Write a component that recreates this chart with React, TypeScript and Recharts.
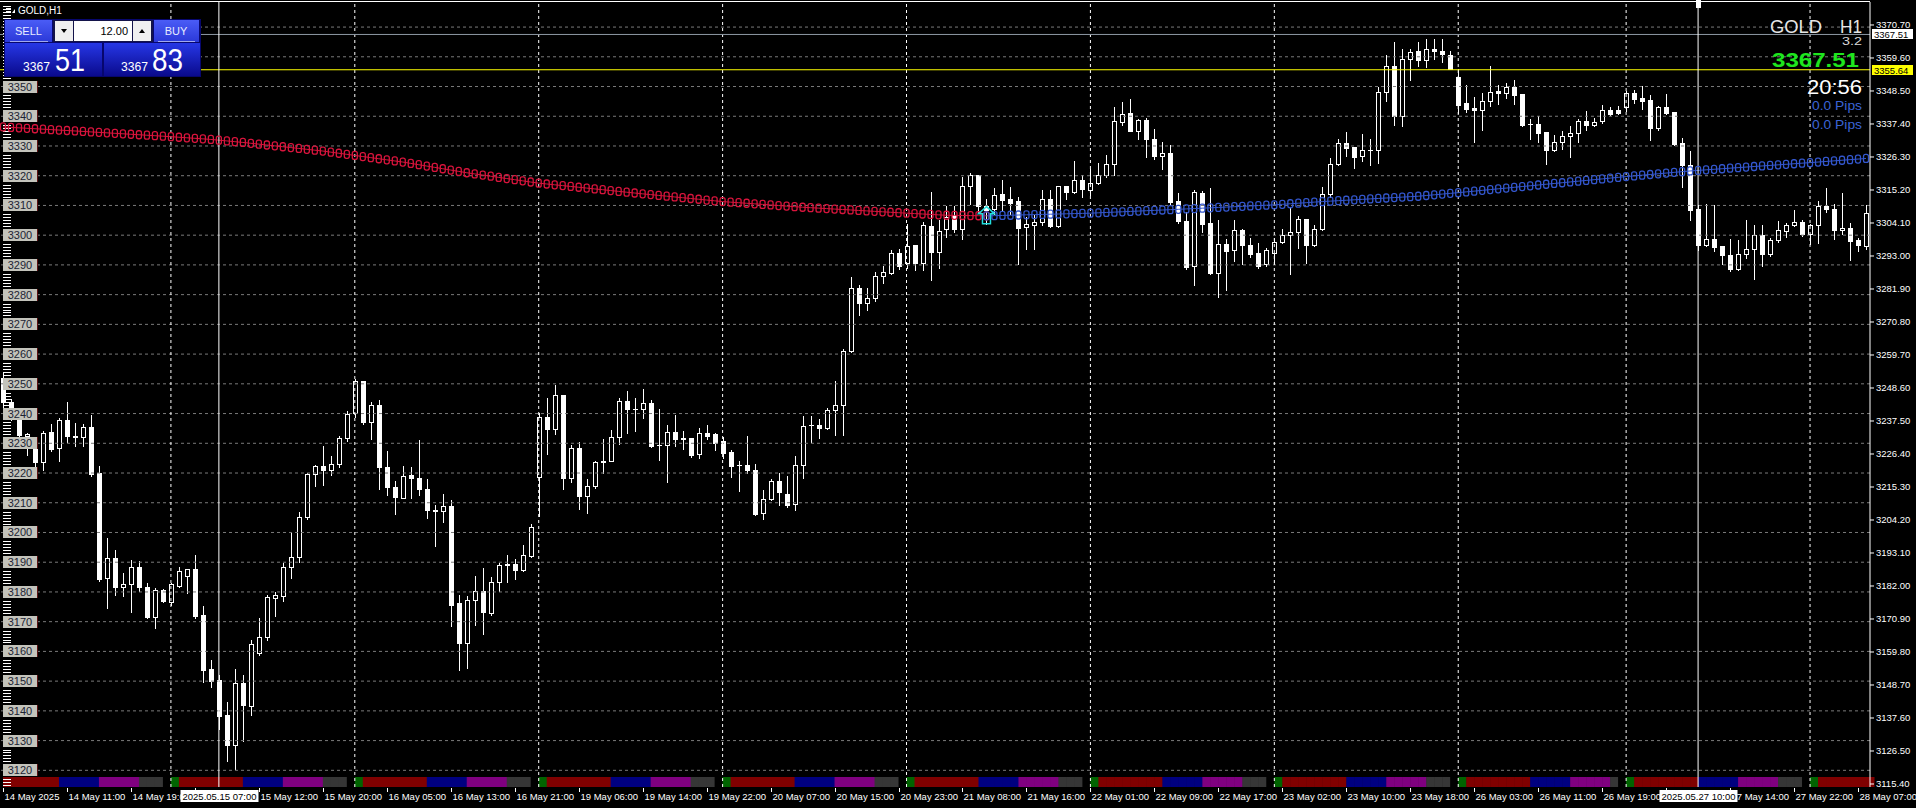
import React from "react";
import { ComposedChart, Bar, Line, XAxis, YAxis, ReferenceLine, ReferenceDot } from "recharts";

const font = "'Liberation Sans', Arial, sans-serif";

// trading sessions shown (label, stamp date, first hour, last hour)
const sessions: [string, string, number, number][] = [
  ["14 May", "2025.05.14", 3, 23],
  ["15 May", "2025.05.15", 1, 23],
  ["16 May", "2025.05.16", 1, 23],
  ["19 May", "2025.05.19", 1, 23],
  ["20 May", "2025.05.20", 1, 23],
  ["21 May", "2025.05.21", 1, 23],
  ["22 May", "2025.05.22", 1, 23],
  ["23 May", "2025.05.23", 1, 23],
  ["26 May", "2025.05.26", 1, 21],
  ["27 May", "2025.05.27", 1, 23],
  ["28 May", "2025.05.28", 1, 8],
];

const opens = [
  3252, 3244, 3238, 3232.5, 3228.4, 3223.6, 3233.8, 3228.3, 3238, 3232.4,
  3232, 3235.5, 3220, 3184.6, 3191.3, 3181.6, 3182.6, 3188.3, 3181.6, 3171.7,
  3180.7, 3176.5, 3181.9, 3185.5, 3187.6, 3172.2, 3154, 3150.3, 3138.5, 3128.6,
  3149.5, 3141.7, 3159.3, 3164.9, 3178.1, 3178.8, 3188.5, 3191.9, 3205.1, 3219.7,
  3222.2, 3220.9, 3223, 3231.8, 3240.2, 3250.9, 3237.2, 3243, 3221.9, 3215.3,
  3211.6, 3219.3, 3218.3, 3214.6, 3207.5, 3207.2, 3209, 3176.2, 3162.9, 3177.3,
  3180.4, 3172.9, 3183.3, 3189.2, 3189.4, 3187.3, 3192.2, 3218.5, 3238.8, 3234.8,
  3246.3, 3218.3, 3228.4, 3212.2, 3215.5, 3223.7, 3223.9, 3232.1, 3244.3, 3241.7,
  3241.5, 3243.5, 3229.5, 3229.5, 3233.8, 3231.6, 3231.8, 3226.4, 3233.5, 3233.2,
  3230.9, 3227, 3222.8, 3222.8, 3221.1, 3206.5, 3211.3, 3217.4, 3212.9, 3209.6,
  3222.8, 3236, 3236.1, 3235.1, 3241.3, 3242.8, 3260.9, 3282.4, 3277.2, 3278.9,
  3286.4, 3287.3, 3294, 3290.6, 3296.6, 3290.6, 3303.2, 3294.2, 3302, 3306.7,
  3302, 3316.5, 3320.3, 3309.8, 3308.7, 3313.9, 3312.3, 3311.4, 3302.6, 3303.3,
  3304.4, 3312.3, 3303.1, 3316.5, 3314.5, 3318.4, 3315.1, 3317.6, 3320.1, 3323.8,
  3338.1, 3341.1, 3335.2, 3338.6, 3332.2, 3326.6, 3327.6, 3311.4, 3304.8, 3289.5,
  3314.3, 3304.2, 3287.4, 3297.1, 3294.9, 3301.8, 3296.6, 3294.1, 3290.2, 3294,
  3297.7, 3299.9, 3301, 3305.5, 3296.8, 3302, 3314, 3324, 3331.1, 3329.6,
  3326.6, 3328.7, 3328.7, 3348.1, 3356.9, 3340, 3359.4, 3361.9, 3358.8, 3362.7,
  3362, 3360.7, 3353.2, 3344.6, 3342.9, 3342, 3345.1, 3348.4, 3347.9, 3349.8,
  3347.6, 3337.5, 3337.5, 3334.7, 3328.5, 3331.5, 3333.3, 3334.3, 3338.3, 3337.2,
  3338.3, 3342.2, 3342, 3343.1, 3347.9, 3346.2, 3345.6, 3336, 3343.1, 3341.4,
  3331, 3323.5, 3308.9, 3296.6, 3298.8, 3296.2, 3293.4, 3288.5, 3293.8, 3295.5,
  3300.2, 3293.6, 3298.3, 3301.4, 3303.4, 3304.4, 3300.5, 3303.3, 3309.8, 3308.9,
  3301.6, 3302.5, 3298.3, 3296.2,
];

const highs = [
  3254, 3245, 3238.5, 3233.5, 3229, 3234.3, 3236.6, 3238.5, 3243.8, 3236.9,
  3236.5, 3239.4, 3222.5, 3198, 3194.2, 3186.3, 3190.8, 3190.4, 3182.9, 3181.3,
  3181, 3183.1, 3188.4, 3187.7, 3192.5, 3175.3, 3157.1, 3152, 3143, 3154,
  3152, 3164, 3171.4, 3179, 3179.9, 3189.7, 3199.8, 3206.9, 3220, 3222.8,
  3229.2, 3225.8, 3232.6, 3240.8, 3251.5, 3251, 3243.9, 3244.7, 3227.5, 3217.2,
  3222.2, 3222, 3231.2, 3218, 3209.3, 3213, 3211, 3179, 3178.7, 3185.2,
  3188, 3185, 3189.7, 3192.3, 3191.1, 3195.9, 3203, 3240.2, 3245.2, 3249.7,
  3246.4, 3229.5, 3230.3, 3218, 3223.9, 3231.4, 3234.4, 3245.2, 3247.7, 3245.2,
  3248.3, 3244.4, 3241.5, 3236.1, 3239.6, 3234, 3231.8, 3235.1, 3236, 3233.5,
  3232.1, 3227.8, 3223.9, 3232.6, 3223.1, 3214.2, 3218, 3220, 3219.1, 3225.6,
  3239.3, 3239.3, 3238.2, 3241.9, 3250.8, 3261.7, 3285.8, 3283.3, 3282.4, 3287.7,
  3289.5, 3295.1, 3295.3, 3303.9, 3296.6, 3304.3, 3314.5, 3305, 3309.8, 3309.8,
  3319.6, 3320.9, 3320.3, 3312.2, 3316, 3318.4, 3316.2, 3312.8, 3306.1, 3306.7,
  3315.1, 3315.1, 3316.7, 3316.7, 3324.9, 3320.1, 3322.1, 3324.4, 3326.8, 3343.1,
  3344.8, 3345.7, 3339.2, 3339.5, 3335.8, 3331.3, 3330.2, 3314.3, 3307.8, 3315.1,
  3314.7, 3315.9, 3305, 3298.8, 3305, 3302.2, 3299.1, 3297.4, 3295.7, 3299,
  3302, 3309.1, 3306.4, 3305.5, 3303.3, 3316.2, 3325.9, 3332.2, 3334.7, 3329.6,
  3334.1, 3332.2, 3349.8, 3360.7, 3364.9, 3362.7, 3362.7, 3365, 3365.9, 3365.9,
  3365.9, 3361.9, 3356, 3350.6, 3346.5, 3347.9, 3356.9, 3350.6, 3351.3, 3352.1,
  3347.6, 3339.2, 3340, 3334.7, 3333.8, 3335.2, 3336.7, 3339.2, 3341.7, 3339.4,
  3343.7, 3343.1, 3343.4, 3348.4, 3348.7, 3350.2, 3347.2, 3343.4, 3347.6, 3341.4,
  3332.8, 3328.3, 3310, 3310.6, 3310, 3296.2, 3298.6, 3298.3, 3305.2, 3303.3,
  3303.3, 3299.1, 3304.8, 3304.2, 3308.3, 3305.2, 3303.9, 3311.4, 3315.9, 3310.6,
  3314.3, 3304.2, 3299.1, 3310,
];

const lows = [
  3242, 3237.8, 3232, 3226, 3222, 3221, 3227.3, 3224, 3230.3, 3229,
  3229.2, 3219.1, 3183.8, 3174.7, 3179, 3178.7, 3173.4, 3180.4, 3171.1, 3167.8,
  3176.7, 3175.6, 3181.5, 3179.8, 3171.1, 3149.8, 3148, 3134, 3123.2, 3120.6,
  3130, 3138.5, 3158.8, 3163.8, 3171.9, 3177.1, 3184.8, 3190, 3204.5, 3215.5,
  3216, 3219.4, 3222, 3230.7, 3239, 3236.5, 3231.6, 3214.6, 3212.5, 3206.3,
  3211.6, 3211.6, 3212.7, 3205, 3195.3, 3203.4, 3168.5, 3153.9, 3154.4, 3169,
  3166, 3172.4, 3180.3, 3183.4, 3184.5, 3186.9, 3191.7, 3205.4, 3226.4, 3233.2,
  3214.6, 3217, 3208, 3206.5, 3215, 3220, 3223.9, 3229.8, 3233.5, 3234,
  3238.5, 3228.6, 3224.3, 3216.9, 3229.2, 3228, 3225.4, 3225, 3231.4, 3227.6,
  3225, 3218.8, 3213.8, 3220, 3206, 3204.5, 3210.8, 3209.4, 3208.6, 3207.7,
  3218.3, 3230.3, 3231.8, 3234.8, 3232.7, 3232.7, 3260.6, 3273, 3275, 3278,
  3283.9, 3287, 3288.7, 3288.9, 3288.2, 3288.4, 3285, 3289, 3299.4, 3301.1,
  3298.6, 3310.6, 3307.8, 3303.8, 3307, 3308.3, 3307.2, 3290.4, 3295.2, 3295.2,
  3303.5, 3302.7, 3302.7, 3312.3, 3314.3, 3312.8, 3313.4, 3317.3, 3319.6, 3320.3,
  3336.9, 3334.9, 3332.4, 3326.3, 3325.7, 3322.4, 3310.4, 3304.2, 3288.5, 3283.1,
  3301.1, 3287, 3279.2, 3281.4, 3291.3, 3290.2, 3292.5, 3289, 3289.5, 3290.4,
  3297.5, 3287, 3295.8, 3290.7, 3296.3, 3301.6, 3312.8, 3323.5, 3326.6, 3322.6,
  3324.8, 3323.5, 3324.4, 3345, 3337.2, 3336.7, 3352.1, 3356.9, 3356.5, 3359.1,
  3358.2, 3355.8, 3341.2, 3341.4, 3331.5, 3335.5, 3343.4, 3344.2, 3346.2, 3344.2,
  3336.7, 3332.2, 3331.3, 3323.8, 3328.2, 3328.9, 3326.3, 3331.5, 3335.5, 3336.7,
  3337.8, 3340.3, 3340.9, 3341.6, 3344.4, 3342.3, 3331.9, 3335.5, 3340.9, 3330.4,
  3316.2, 3305, 3295, 3296.2, 3294.6, 3290.4, 3287.8, 3288.2, 3292.3, 3285.4,
  3289.6, 3293, 3297.7, 3299.4, 3303, 3299.7, 3297.1, 3297.3, 3307.8, 3298.6,
  3300.5, 3291.5, 3294.6, 3295.5,
];

const closes = [
  3244, 3238.3, 3232.7, 3233, 3223.6, 3233.5, 3228.2, 3238, 3232.4, 3232,
  3235.5, 3219.7, 3184.3, 3191.3, 3181.6, 3182.6, 3188.3, 3181.5, 3171.6, 3180.7,
  3177.1, 3182.6, 3186.9, 3187.6, 3171.9, 3153.7, 3150.1, 3138.3, 3128.6, 3149.5,
  3141.9, 3162.4, 3164.9, 3178.2, 3178.9, 3188.5, 3191.9, 3205.1, 3219.7, 3222.2,
  3220.9, 3223, 3231.8, 3240, 3250.9, 3237.2, 3243, 3221.9, 3215.3, 3211.8,
  3219.1, 3218.2, 3214.6, 3207.5, 3207.2, 3209, 3175.6, 3162.9, 3177.3, 3180.3,
  3173.1, 3183.3, 3189.2, 3189.4, 3187.3, 3192.5, 3201.8, 3238.8, 3234.8, 3246.1,
  3218.3, 3228.4, 3212.2, 3215.5, 3223.7, 3224.1, 3232.1, 3244.3, 3241.7, 3241.6,
  3243.5, 3229, 3229.4, 3233.8, 3231.4, 3231.7, 3226.2, 3233.5, 3232.6, 3230.1,
  3226.7, 3222.2, 3222.6, 3220.9, 3206.3, 3211.3, 3217.4, 3213.5, 3209.4, 3222.8,
  3235.7, 3236.1, 3235, 3241.3, 3242.9, 3261.1, 3282.2, 3277.2, 3278.9, 3286.4,
  3287.5, 3294, 3289.5, 3296.2, 3290.6, 3303.3, 3294.2, 3301.5, 3306, 3302,
  3316.5, 3320.3, 3309.8, 3308.6, 3313.6, 3311.7, 3310.9, 3302.4, 3303.7, 3304.4,
  3312.3, 3303.1, 3316.5, 3314.5, 3318.4, 3315.6, 3317.6, 3320.1, 3323.8, 3338.3,
  3340.9, 3335.2, 3338.6, 3332.2, 3326.6, 3327.6, 3311.1, 3304.6, 3289.3, 3314.5,
  3303.9, 3287.4, 3297.1, 3294.7, 3301.8, 3296.6, 3293.8, 3289.8, 3295.1, 3297.7,
  3300.2, 3301, 3305.5, 3296.8, 3302, 3314, 3324, 3331.1, 3329.3, 3326.3,
  3328.7, 3328.8, 3348.1, 3356.9, 3340, 3359.4, 3361.6, 3358.8, 3362.7, 3361.8,
  3360.9, 3356, 3343.9, 3342.5, 3342, 3345.1, 3348.1, 3347.9, 3349.8, 3347.2,
  3337.2, 3337.4, 3334.5, 3328.5, 3331.5, 3333.3, 3334.3, 3338.3, 3337.2, 3338,
  3342, 3340.9, 3341.2, 3347.9, 3345.9, 3345, 3336, 3343.1, 3341.2, 3330.8,
  3323.5, 3308.3, 3296.6, 3298.8, 3296, 3293.2, 3288.5, 3293.8, 3295.5, 3300.2,
  3293.6, 3298.3, 3301.6, 3303.5, 3304.4, 3300.5, 3303.3, 3309.7, 3308.7, 3301.6,
  3302.5, 3297.9, 3296.6, 3307.4,
];

// moving average: falling part (red) up to bar 123, rising part (blue) from bar 123
const maRed = [
  3336.4, 3336.25, 3336.1, 3335.95, 3335.8, 3335.65, 3335.5, 3335.35, 3335.2, 3335.05, 3334.9,
  3334.74, 3334.58, 3334.42, 3334.26, 3334.1, 3333.94, 3333.78, 3333.62, 3333.46, 3333.3,
  3333.12, 3332.94, 3332.76, 3332.58, 3332.4, 3332.2,
  3331.95, 3331.7, 3331.45, 3331.2,
  3330.91, 3330.62, 3330.33, 3330.04, 3329.75, 3329.46, 3329.17, 3328.88, 3328.59, 3328.3,
  3327.93, 3327.56, 3327.19, 3326.82, 3326.45, 3326.08, 3325.71, 3325.34, 3324.97, 3324.6,
  3324.15, 3323.7, 3323.25, 3322.8, 3322.35, 3321.9, 3321.45, 3321.0,
  3320.61, 3320.22, 3319.83, 3319.44, 3319.05, 3318.66, 3318.27, 3317.88, 3317.5,
  3317.22, 3316.95, 3316.67, 3316.39, 3316.12, 3315.84, 3315.56, 3315.29, 3315.01, 3314.73, 3314.45, 3314.18, 3313.9,
  3313.64, 3313.38, 3313.12, 3312.86, 3312.6, 3312.34, 3312.08, 3311.82, 3311.56, 3311.3,
  3311.11, 3310.92, 3310.73, 3310.54, 3310.35, 3310.16, 3309.97, 3309.78, 3309.59, 3309.4,
  3309.25, 3309.09, 3308.94, 3308.78, 3308.63, 3308.48, 3308.32, 3308.17, 3308.01, 3307.86, 3307.71, 3307.55, 3307.4,
  3307.26, 3307.12, 3306.98, 3306.84, 3306.7,
  3306.66, 3306.62, 3306.58, 3306.54, 3306.5,
];
const maBlue = [
  3306.5, 3306.57, 3306.64, 3306.71, 3306.78, 3306.85, 3306.92, 3306.98, 3307.05, 3307.12, 3307.19, 3307.26, 3307.33, 3307.4,
  3307.52, 3307.64, 3307.75, 3307.87, 3307.99, 3308.11, 3308.23, 3308.35, 3308.46, 3308.58, 3308.7,
  3308.83, 3308.95, 3309.08, 3309.2, 3309.33, 3309.45, 3309.58, 3309.7, 3309.83, 3309.95, 3310.08, 3310.2,
  3310.38, 3310.57, 3310.75, 3310.93, 3311.12, 3311.3,
  3311.45, 3311.6, 3311.75, 3311.9, 3312.05, 3312.2, 3312.35, 3312.5, 3312.65, 3312.8, 3312.95, 3313.1,
  3313.34, 3313.58, 3313.82, 3314.06, 3314.3,
  3314.56, 3314.81, 3315.07, 3315.33, 3315.59, 3315.84, 3316.1, 3316.36, 3316.61, 3316.87, 3317.13, 3317.39, 3317.64, 3317.9, 3318.16, 3318.41, 3318.67, 3318.93, 3319.19, 3319.44, 3319.7,
  3319.94, 3320.18, 3320.41, 3320.65, 3320.89, 3321.13, 3321.36, 3321.6,
  3321.79, 3321.97, 3322.16, 3322.35, 3322.53, 3322.72, 3322.91, 3323.1, 3323.28, 3323.47, 3323.66, 3323.84, 3324.03, 3324.22, 3324.4,
  3324.6, 3324.8, 3325.0, 3325.2, 3325.4, 3325.6, 3325.8,
];
const maTurn = 123;

const priceTicks = [
  3115.4, 3126.5, 3137.6, 3148.7, 3159.8, 3170.9, 3182.0, 3193.1, 3204.2, 3215.3, 3226.4, 3237.5,
  3248.6, 3259.7, 3270.8, 3281.9, 3293.0, 3304.1, 3315.2, 3326.3, 3337.4, 3348.5, 3359.6, 3370.7,
];
const gridLevels = [
  3120, 3130, 3140, 3150, 3160, 3170, 3180, 3190, 3200, 3210, 3220, 3230, 3240,
  3250, 3260, 3270, 3280, 3290, 3300, 3310, 3320, 3330, 3340, 3350, 3360, 3370,
];
const boxLevels = [
  3120, 3130, 3140, 3150, 3160, 3170, 3180, 3190, 3200, 3210, 3220, 3230,
  3240, 3250, 3260, 3270, 3280, 3290, 3300, 3310, 3320, 3330, 3340, 3350,
];
// short white scale marks on the left edge, one per dollar, skipping the boxed labels
const ladderMarks: number[] = [];
for (let v = 3115; v <= 3377; v++) {
  const near = Math.round(v / 10) * 10;
  if (!(Math.abs(v - near) <= 2 && boxLevels.includes(near))) ladderMarks.push(v);
}

const priceDomain = [3114.39, 3378.43];
const askLine = 3367.51;
const bidLine = 3355.64;
const cursorBars = [27, 212];
const arrowBar = 123;
const arrowLevel = 3309.6;
const plotBottom = 787;

const pad = (n: number) => (n < 10 ? "0" + n : "" + n);

type Row = {
  i: number; o: number; h: number; l: number; c: number;
  maR: number | null; maB: number | null; band: number; fill: string; label: string; stamp: string;
};

const data: Row[] = [];
const dayStarts: number[] = [];
sessions.forEach(([day, ymd, first, last], si) => {
  for (let hr = first; hr <= last; hr++) {
    const i = data.length;
    if (hr === 1) dayStarts.push(i);
    const closed = hr === last && si < sessions.length - 1;
    const fill = closed ? "#000000" : hr === 1 ? "#006400" : hr <= 9 ? "#800000" : hr <= 14 ? "#000080" : hr <= 19 ? "#800080" : "#363636";
    data.push({
      i, o: opens[i], h: highs[i], l: lows[i], c: closes[i],
      maR: i <= maTurn ? maRed[i] : null,
      maB: i >= maTurn ? maBlue[i - maTurn] : null,
      band: 1, fill,
      label: i === 0 ? `${day} 2025` : `${day} ${pad(hr)}:00`,
      stamp: `${ymd} ${pad(hr)}:00`,
    });
  }
});
const labelIdx = data.filter((d) => d.i % 8 === 0).map((d) => d.i);

function Candle(props: any) {
  const { x, y, width, height, payload } = props;
  if (x == null || y == null || !payload) return <g />;
  const top = Math.min(y, y + height);
  const span = Math.abs(height);
  const { o, h, l, c } = payload;
  const toY = (v: number) => (h === l ? top : top + ((h - v) / (h - l)) * span);
  const px = Math.round(x + width / 2) + 0.5;
  const yo = toY(o);
  const yc = toY(c);
  const bTop = Math.round(Math.min(yo, yc)) + 0.5;
  const bBot = Math.round(Math.max(yo, yc)) + 0.5;
  const bull = c >= o;
  return (
    <g>
      <line x1={px} x2={px} y1={Math.round(top)} y2={Math.round(top + span) + 1} stroke="#ffffff" />
      {bBot - bTop < 1 ? (
        <line x1={px - 2.5} x2={px + 2.5} y1={bTop} y2={bTop} stroke="#ffffff" />
      ) : (
        <rect x={px - 2} y={bTop} width={4} height={bBot - bTop} fill={bull ? "#000000" : "#ffffff"} stroke="#ffffff" />
      )}
    </g>
  );
}

function SessionCell(props: any) {
  const { x, y, width, height, payload } = props;
  if (x == null || !payload) return <g />;
  return <rect x={x + width / 2} y={y} width={width + 0.5} height={height} fill={payload.fill} />;
}

const chainDot = (color: string) => (p: any) => {
  if (p.cy == null || p.value == null) return <g key={`n${p.index}`} />;
  return (
    <rect key={`d${p.index}`} x={p.cx - 2.5} y={p.cy - 4} width={5} height={8} rx={2}
      fill="none" stroke={color} strokeWidth={1.3} />
  );
};

const ladderMark = (vb: any) => {
  if (!vb) return <g />;
  const yy = Math.round(vb.y) + 0.5;
  return <line x1={3} x2={11} y1={yy} y2={yy} stroke="#ffffff" />;
};

const levelBox = (vb: any, v: number) => {
  if (!vb) return <g />;
  const yy = Math.round(vb.y);
  return (
    <g>
      <rect x={3} y={yy - 6} width={34} height={12} fill="#c3c3bb" />
      <line x1={37.5} x2={37.5} y1={yy - 6} y2={yy + 6} stroke="#5a1010" />
      <text x={20} y={yy + 4} textAnchor="middle" fontSize={11} fontFamily={font} fill="#1c2333">{v}</text>
    </g>
  );
};

function TimeTick(props: any) {
  const { x, payload } = props;
  const d = data[payload.value];
  if (!d) return <g />;
  const y = plotBottom;
  const px = Math.round(x) + 0.5;
  return (
    <g>
      <line x1={px} x2={px} y1={y + 1} y2={y + 5} stroke="#ffffff" />
      <text x={px + 1} y={y + 12.5} fill="#ffffff" fontSize={9.5} fontFamily={font}>{d.label}</text>
    </g>
  );
}

function StampTick(props: any) {
  const { x, payload } = props;
  const d = data[payload.value];
  if (!d) return <g />;
  const cx = Math.round(x) + 0.5;
  return (
    <g>
      <rect x={cx - 39} y={plotBottom + 3} width={78} height={12} fill="#ffffff" />
      <text x={cx} y={plotBottom + 12.5} textAnchor="middle" fontSize={9.5} fontFamily={font} fill="#000000">{d.stamp}</text>
    </g>
  );
}

const priceTag = (vb: any, bg: string, text: string) => {
  if (!vb) return <g />;
  const yy = Math.round(vb.y);
  const right = vb.x + vb.width;
  return (
    <g>
      <rect x={right + 2} y={yy - 5} width={41} height={10} fill={bg} />
      <text x={right + 4} y={yy + 3.5} fontSize={9.5} fontFamily={font} fill="#000000">{text}</text>
    </g>
  );
};

const cursorMark = (vb: any, marker: boolean) => {
  if (!vb || !marker) return <g />;
  const cx = Math.round(vb.x) + 0.5;
  return <rect x={cx - 2.5} y={0} width={5} height={8} fill="#ffffff" />;
};

function Overlay() {
  return (
    <svg width={1916} height={808} style={{ position: "absolute", left: 0, top: 0, pointerEvents: "none" }} fontFamily={font}>
      <defs>
        <linearGradient id="btnG" x1="0" y1="0" x2="0" y2="1">
          <stop offset="0" stopColor="#4a5cf6" />
          <stop offset="1" stopColor="#2b39d8" />
        </linearGradient>
        <linearGradient id="pxG" x1="0" y1="0" x2="0" y2="1">
          <stop offset="0" stopColor="#2637e6" />
          <stop offset="1" stopColor="#0a0a8c" />
        </linearGradient>
      </defs>
      <line x1={0} x2={1870} y1={1.5} y2={1.5} stroke="#ffffff" />
      <line x1={6} x2={11} y1={8.5} y2={8.5} stroke="#ffffff" />
      <line x1={6} x2={11} y1={11.5} y2={11.5} stroke="#ffffff" />
      <path d="M12 13 L15 9 L15 13 Z" fill="#ffffff" />
      <text x={18} y={14} fill="#ffffff" fontSize={10}>GOLD,H1</text>

      <rect x={4} y={19} width={197} height={58} fill="#07076e" />
      <rect x={5} y={20} width={47} height={22} fill="url(#btnG)" />
      <text x={28.5} y={35} textAnchor="middle" fill="#e8ecff" fontSize={11}>SELL</text>
      <line x1={10} x2={48} y1={41.5} y2={41.5} stroke="#a0a8ee" />
      <rect x={53} y={20} width={100} height={22} fill="#14144a" />
      <rect x={55} y={21} width={18} height={20} fill="#f0f0f0" />
      <path d="M61 29 L67 29 L64 33 Z" fill="#000000" />
      <rect x={74} y={21} width={58} height={20} fill="#ffffff" />
      <text x={128} y={35} textAnchor="end" fill="#000000" fontSize={11}>12.00</text>
      <rect x={133} y={21} width={18} height={20} fill="#f0f0f0" />
      <path d="M139 33 L145 33 L142 29 Z" fill="#000000" />
      <rect x={154} y={20} width={45} height={22} fill="url(#btnG)" />
      <text x={176} y={35} textAnchor="middle" fill="#e8ecff" fontSize={11}>BUY</text>
      <line x1={158} x2={195} y1={41.5} y2={41.5} stroke="#a0a8ee" />

      <rect x={5} y={43} width={97} height={33} fill="url(#pxG)" />
      <text x={23} y={70.5} fill="#ffffff" fontSize={12} textLength={27} lengthAdjust="spacingAndGlyphs">3367</text>
      <text x={55} y={71} fill="#ffffff" fontSize={32} textLength={30} lengthAdjust="spacingAndGlyphs">51</text>
      <rect x={104} y={43} width={96} height={33} fill="url(#pxG)" />
      <text x={121} y={70.5} fill="#ffffff" fontSize={12} textLength={27} lengthAdjust="spacingAndGlyphs">3367</text>
      <text x={152} y={71} fill="#ffffff" fontSize={32} textLength={31} lengthAdjust="spacingAndGlyphs">83</text>

      <text x={1770} y={33} fill="#e6e6e6" fontSize={19} textLength={52} lengthAdjust="spacingAndGlyphs">GOLD</text>
      <text x={1840} y={33} fill="#e6e6e6" fontSize={19} textLength={22} lengthAdjust="spacingAndGlyphs">H1</text>
      <text x={1842} y={45} fill="#d8d8d8" fontSize={11} textLength={20} lengthAdjust="spacingAndGlyphs">3.2</text>
      <text x={1772} y={67} fill="#1ee61e" fontSize={20.5} fontWeight="bold" textLength={87} lengthAdjust="spacingAndGlyphs">3367.51</text>
      <text x={1807} y={94} fill="#ffffff" fontSize={20} textLength={55} lengthAdjust="spacingAndGlyphs">20:56</text>
      <text x={1812} y={110} fill="#3b64d6" fontSize={13.5} textLength={50} lengthAdjust="spacingAndGlyphs">0.0 Pips</text>
      <text x={1812} y={128.5} fill="#3b64d6" fontSize={13.5} textLength={50} lengthAdjust="spacingAndGlyphs">0.0 Pips</text>
    </svg>
  );
}

export default function App() {
  return (
    <div style={{ position: "absolute", left: 0, top: 0, width: 1916, height: 808, background: "#000000", overflow: "hidden", fontFamily: font }}>
      <ComposedChart
        width={1916}
        height={808}
        data={data}
        margin={{ top: 2, right: 0, bottom: 0, left: -1 }}
        barCategoryGap={0}
        barGap={0}
        style={{ fontFamily: font }}
      >
        <XAxis xAxisId="main" dataKey="i" type="category" ticks={labelIdx} interval={0} height={20}
          tick={<TimeTick />} tickLine={false} axisLine={{ stroke: "#ffffff" }} />
        <XAxis xAxisId="stamp" dataKey="i" type="category" ticks={cursorBars} interval={0} height={1}
          tick={<StampTick />} tickLine={false} axisLine={false} />
        <XAxis xAxisId="band" dataKey="i" type="category" hide />
        <YAxis yAxisId="price" orientation="right" width={46} type="number" domain={priceDomain} allowDataOverflow
          ticks={priceTicks} interval={0} tickFormatter={(v: number) => v.toFixed(2)}
          tick={{ fill: "#ffffff", fontSize: 9.5, fontFamily: font }} tickSize={4} tickMargin={2}
          tickLine={{ stroke: "#ffffff" }} axisLine={{ stroke: "#ffffff" }} />
        <YAxis yAxisId="band" hide type="number" domain={[0, 78.5]} allowDataOverflow />

        {gridLevels.map((v) => (
          <ReferenceLine key={`g${v}`} xAxisId="main" yAxisId="price" y={v} stroke="#7a7a7a" strokeDasharray="3 3" />
        ))}
        {dayStarts.map((b) => (
          <ReferenceLine key={`v${b}`} xAxisId="main" yAxisId="price" x={b} stroke="#ffffff" strokeDasharray="3 3" />
        ))}

        <Bar xAxisId="band" yAxisId="band" dataKey="band" isAnimationActive={false} shape={<SessionCell />} />
        <Bar xAxisId="main" yAxisId="price" dataKey={(d: Row) => [d.l, d.h]} isAnimationActive={false} shape={<Candle />} />
        <Line xAxisId="main" yAxisId="price" dataKey="maR" stroke="#d8143c" strokeWidth={1} dot={chainDot("#d8143c")}
          isAnimationActive={false} connectNulls={false} activeDot={false} />
        <Line xAxisId="main" yAxisId="price" dataKey="maB" stroke="#3356cc" strokeWidth={1} dot={chainDot("#3356cc")}
          isAnimationActive={false} connectNulls={false} activeDot={false} />

        {ladderMarks.map((v) => (
          <ReferenceLine key={`m${v}`} xAxisId="main" yAxisId="price" y={v} stroke="none"
            label={(p: any) => ladderMark(p.viewBox)} />
        ))}
        {boxLevels.map((v) => (
          <ReferenceLine key={`b${v}`} xAxisId="main" yAxisId="price" y={v} stroke="none"
            label={(p: any) => levelBox(p.viewBox, v)} />
        ))}

        <ReferenceLine xAxisId="main" yAxisId="price" y={askLine} stroke="#8e98a4"
          label={(p: any) => priceTag(p.viewBox, "#ffffff", askLine.toFixed(2))} />
        <ReferenceLine xAxisId="main" yAxisId="price" y={bidLine} stroke="#ffff00"
          label={(p: any) => priceTag(p.viewBox, "#ffff00", bidLine.toFixed(2))} />
        {cursorBars.map((b, k) => (
          <ReferenceLine key={b} xAxisId="main" yAxisId="price" x={b} stroke="#ffffff"
            label={(p: any) => cursorMark(p.viewBox, k === 1)} />
        ))}
        <ReferenceDot xAxisId="main" yAxisId="price" x={arrowBar} y={arrowLevel} r={0}
          shape={(p: any) => (
            <path
              d={`M${p.cx} ${p.cy} L${p.cx + 8} ${p.cy + 7} L${p.cx + 4} ${p.cy + 7} L${p.cx + 4} ${p.cy + 17} L${p.cx - 4} ${p.cy + 17} L${p.cx - 4} ${p.cy + 7} L${p.cx - 8} ${p.cy + 7} Z`}
              fill="none" stroke="#22dede" strokeWidth={1.5} />
          )} />
      </ComposedChart>
      <Overlay />
    </div>
  );
}
